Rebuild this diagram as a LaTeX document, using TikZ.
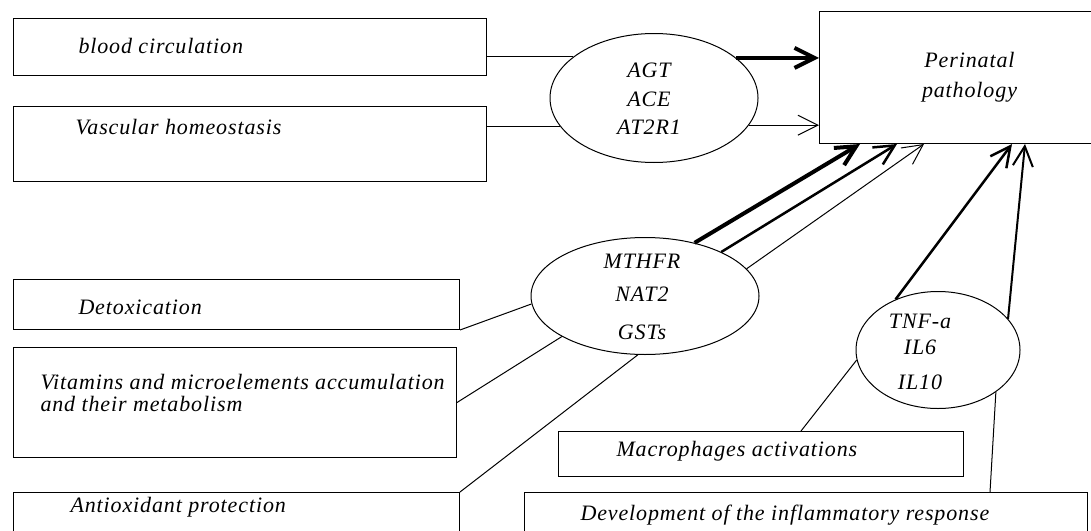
\documentclass[tikz,border=0pt]{standalone}
\usepackage{fontspec}
\setmainfont{Liberation Serif}
\newfontfamily\labelfont[LetterSpace=4]{Liberation Serif}
\newcommand{\lblfont}{\labelfont\itshape\fontsize{22}{26}\selectfont}
\usetikzlibrary{shapes.geometric,arrows.meta}

\tikzset{every picture/.style={line width=1pt},
  box/.style={draw, rectangle, inner sep=0pt, anchor=north west},
  gene/.style={draw, ellipse, inner sep=0pt},
  txt/.style={inner sep=0pt, anchor=west, font=\lblfont},
  barb/.style={-{Straight Barb[length=20pt,width=20pt]}},
}

\begin{document}
\begin{tikzpicture}[x=1pt,y=1pt,yscale=-1,xscale=1]
\useasboundingbox (0,0) rectangle (1091,530);

%Rectangles
\node[box, minimum width=473pt, minimum height=57pt] (blood) at (13,18) {};
\node[box, minimum width=473pt, minimum height=75pt] (vasc) at (13,106) {};
\node[box, minimum width=446pt, minimum height=50pt] (detox) at (13,279) {};
\node[box, minimum width=443pt, minimum height=110pt] (vit) at (13,347) {};
\node[box, minimum width=446pt, minimum height=60pt] (antiox) at (13,492) {};
\node[box, minimum width=405pt, minimum height=45pt] (macro) at (558,431) {};
\node[box, minimum width=563pt, minimum height=60pt] (dev) at (524,492) {};
\node[box, minimum width=300pt, minimum height=132pt, align=center, font=\lblfont] (peri) at (819,11) {Perinatal\\[4pt]pathology};

%Ellipses
\node[gene, minimum width=208pt, minimum height=129pt] (agt) at (654,98) {};
\node[gene, minimum width=228pt, minimum height=117pt] (mthfr) at (645,296) {};
\node[gene, minimum width=164pt, minimum height=117pt] (tnf) at (938,350) {};

%Text
\node[txt] (blood-t) at (78,46) {blood circulation};
\node[txt] (vasc-t) at (75,127) {Vascular homeostasis};
\node[txt] (detox-t) at (78,307) {Detoxication};
\node[txt, align=left] (vit-t) at (40,393) {Vitamins and microelements accumulation\\[-4pt]and their metabolism};
\node[txt] (antiox-t) at (70,507) {Antioxidant protection};
\node[txt] (macro-t) at (616,451) {Macrophages activations};
\node[txt] (dev-t) at (580,515) {Development of the inflammatory response};
\node[txt, anchor=center, align=center] (agt-t) at (649,99) {AGT\\[3pt]ACE\\[2pt]AT2R1};
\node[txt, anchor=center, align=center] (mthfr-t) at (642,297) {MTHFR\\[7pt]NAT2\\[12pt]GSTs};
\node[txt, anchor=center, align=center] (tnf-t) at (920,352) {TNF-a\\IL6\\[9pt]IL10};

%Straight Lines
\draw (blood.east |- agt.153) -- (agt.153);
\draw (vasc.east |- agt.197) -- (agt.197);
\draw (detox.south east) -- (mthfr.184);
\draw (vit.east) -- (mthfr.206);
\draw (antiox.north east) -- (mthfr.263);
\draw ([xshift=243pt]macro.north west) -- (tnf.187);
\draw ([xshift=466pt]dev.north west) -- (tnf.324);

%Arrows
\draw[barb, line width=4pt] (agt.26) -- (agt.26 -| peri.west);
\draw[barb] (agt.344) -- (agt.344 -| peri.west);
\draw[barb, line width=4pt] (mthfr.47) -- ([xshift=41pt]peri.south west);
\draw[barb, line width=2.5pt] (mthfr.30) -- ([xshift=78pt]peri.south west);
\draw[barb] (mthfr.15) -- ([xshift=105pt]peri.south west);
\draw[barb, line width=2.5pt] (tnf.130) -- ([xshift=193pt]peri.south west);
\draw[barb, line width=2pt] (tnf.24) -- ([xshift=206pt]peri.south west);

\end{tikzpicture}
\end{document}
